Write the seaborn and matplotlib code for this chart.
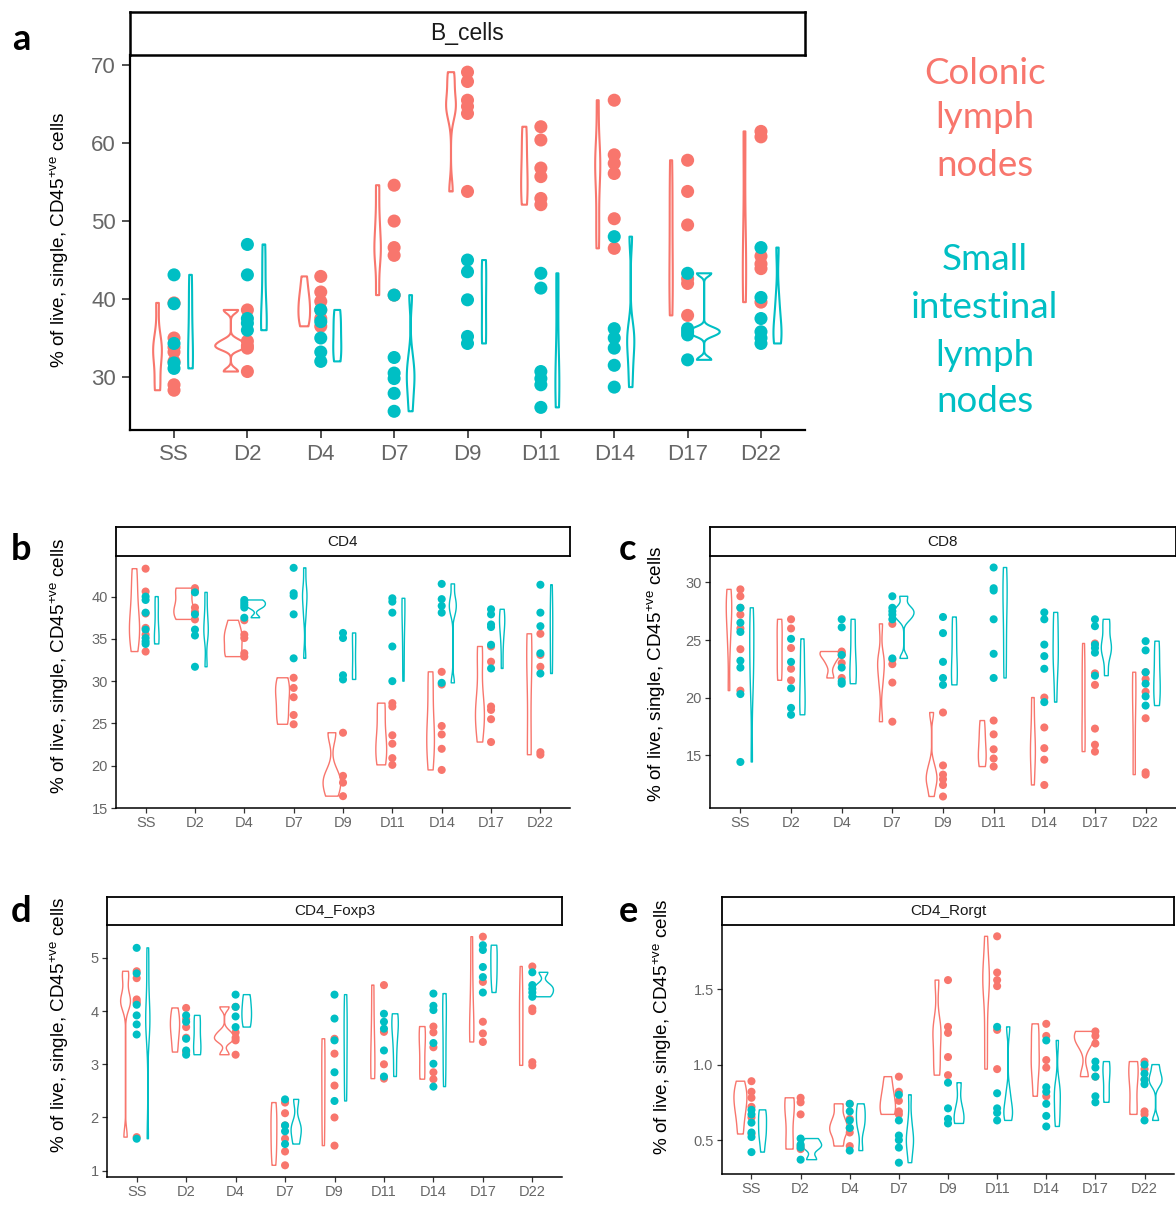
import numpy as np
import pandas as pd
import matplotlib
matplotlib.use("Agg")
import matplotlib.pyplot as plt
import seaborn as sns

# ---------------- data ----------------
DAYS = ["SS", "D2", "D4", "D7", "D9", "D11", "D14", "D17", "D22"]
SITES = ["Colonic", "SI"]
RED = "#F8766D"
CYAN = "#00BFC4"

BCELLS_COLONIC = [
    [39.5, 35.0, 33.8, 33.2, 32.0, 29.0, 28.3],
    [38.6, 34.6, 34.0, 33.7, 30.7],
    [42.9, 40.9, 39.7, 38.6, 37.5, 36.5],
    [54.6, 50.0, 46.6, 45.6, 40.5],
    [69.1, 67.9, 65.5, 64.7, 63.8, 53.8],
    [62.1, 60.4, 56.8, 55.7, 52.9, 52.1],
    [65.5, 58.5, 57.4, 56.1, 50.3, 46.5],
    [57.8, 53.8, 49.5, 42.6, 42.0, 37.9],
    [61.5, 60.8, 45.5, 44.5, 43.9, 39.6],
]
BCELLS_SI = [
    [43.1, 39.4, 34.3, 31.8, 31.1],
    [47.0, 43.1, 37.5, 36.9, 36.0],
    [38.6, 37.1, 35.0, 33.2, 32.0],
    [40.5, 32.5, 30.5, 29.8, 27.9, 25.6],
    [45.0, 43.5, 39.9, 35.2, 34.3],
    [43.3, 41.4, 30.7, 29.8, 29.0, 26.1],
    [48.0, 36.2, 35.0, 33.7, 31.5, 28.7],
    [43.3, 36.2, 35.8, 35.4, 32.2],
    [46.6, 40.2, 37.5, 35.8, 35.0, 34.3],
]
CD4_COLONIC = [
    [43.3, 40.6, 38.0, 36.3, 35.5, 33.5],
    [41.0, 40.7, 38.7, 38.2, 37.3],
    [37.2, 35.5, 35.1, 33.3, 32.9],
    [30.4, 29.2, 28.1, 26.0, 24.9],
    [23.9, 18.8, 18.0, 16.4],
    [27.4, 27.0, 23.6, 22.6, 20.9, 20.1],
    [31.1, 29.6, 24.7, 23.7, 22.0, 19.5],
    [34.1, 32.3, 27.0, 26.6, 25.5, 22.8],
    [35.6, 33.1, 31.7, 21.6, 21.3],
]
CD4_SI = [
    [40.0, 39.6, 38.1, 36.1, 35.1, 34.7, 34.4],
    [40.5, 37.9, 36.1, 35.4, 31.7],
    [39.6, 39.3, 39.0, 38.7, 37.5],
    [43.4, 40.4, 40.1, 37.9, 32.7],
    [35.7, 35.1, 30.7, 30.2],
    [39.8, 39.4, 38.1, 34.1, 30.0],
    [41.5, 39.7, 38.9, 38.1, 29.8],
    [38.5, 37.9, 36.7, 36.4, 34.3, 31.5],
    [41.4, 38.1, 36.5, 33.3, 30.9],
]
CD8_COLONIC = [
    [29.4, 28.8, 27.8, 27.2, 26.0, 24.2, 20.6],
    [26.8, 26.0, 24.3, 22.5, 21.5],
    [24.0, 23.9, 23.7, 23.0, 21.7],
    [26.4, 23.3, 22.9, 21.3, 17.9],
    [18.7, 14.1, 13.3, 12.9, 12.4, 11.4],
    [18.0, 16.8, 15.5, 14.7, 14.0],
    [20.0, 17.4, 15.6, 14.6, 12.4],
    [24.7, 22.1, 21.1, 17.3, 15.9, 15.3],
    [22.2, 21.6, 20.5, 18.2, 13.5, 13.3],
]
CD8_SI = [
    [27.8, 26.5, 25.7, 23.2, 22.6, 20.3, 14.4],
    [25.1, 23.1, 20.8, 19.1, 18.5],
    [26.8, 26.1, 23.7, 22.6, 21.4, 21.2],
    [28.8, 27.8, 27.5, 27.2, 26.8, 23.4],
    [27.0, 25.6, 23.1, 21.7, 21.1],
    [31.3, 29.5, 29.3, 26.8, 23.8, 21.7],
    [27.4, 26.8, 24.6, 23.6, 22.5, 19.6],
    [26.8, 26.2, 24.6, 24.3, 23.9, 21.9],
    [24.9, 24.1, 22.2, 21.2, 20.1, 19.3],
]
FOXP3_COLONIC = [
    [4.75, 4.62, 4.22, 4.18, 4.15, 1.63],
    [4.06, 3.85, 3.70, 3.50, 3.23],
    [4.08, 3.60, 3.50, 3.45, 3.18],
    [2.28, 2.08, 1.85, 1.60, 1.36, 1.10],
    [3.48, 3.20, 2.60, 2.00, 1.47],
    [4.49, 3.61, 3.00, 2.73],
    [3.71, 3.60, 3.32, 2.85, 2.72],
    [5.40, 4.55, 3.80, 3.58, 3.42],
    [4.84, 4.05, 4.00, 3.04, 2.98],
]
FOXP3_SI = [
    [5.19, 4.71, 4.12, 3.92, 3.75, 3.56, 1.60],
    [3.92, 3.80, 3.48, 3.26, 3.18],
    [4.31, 4.08, 3.90, 3.70],
    [2.34, 1.85, 1.74, 1.50],
    [4.31, 3.86, 3.45, 2.85, 2.31],
    [3.95, 3.80, 3.67, 3.26, 2.77],
    [4.33, 4.10, 4.02, 3.40, 3.01, 2.58],
    [5.24, 5.15, 4.83, 4.64, 4.35],
    [4.73, 4.49, 4.42, 4.35, 4.27],
]
RORGT_COLONIC = [
    [0.89, 0.82, 0.78, 0.72, 0.65, 0.54],
    [0.78, 0.75, 0.67, 0.46, 0.44],
    [0.74, 0.64, 0.58, 0.55, 0.46],
    [0.92, 0.82, 0.76, 0.69, 0.67],
    [1.56, 1.25, 1.21, 1.05, 0.93],
    [1.85, 1.61, 1.56, 1.52, 1.23, 0.97],
    [1.27, 1.19, 1.03, 0.98, 0.79],
    [1.22, 1.19, 1.14, 0.92],
    [1.02, 0.97, 0.90, 0.69, 0.67],
]
RORGT_SI = [
    [0.70, 0.67, 0.615, 0.55, 0.52, 0.42],
    [0.51, 0.47, 0.45, 0.37],
    [0.74, 0.69, 0.63, 0.58, 0.43],
    [0.80, 0.63, 0.53, 0.50, 0.45, 0.35],
    [0.88, 0.71, 0.64, 0.61],
    [1.25, 0.81, 0.71, 0.68, 0.63],
    [1.16, 0.85, 0.82, 0.74, 0.66, 0.59],
    [1.02, 0.98, 0.92, 0.79, 0.75],
    [1.00, 0.94, 0.90, 0.87, 0.63],
]

YLABEL = "% of live, single, CD45$^{+ve}$ cells"

# ---------------- style ----------------
sns.set_theme(style="ticks")
plt.rcParams["font.family"] = ["Liberation Sans", "DejaVu Sans"]
plt.rcParams["mathtext.default"] = "regular"

W, H = 1176, 1215
fig = plt.figure(figsize=(W / 100, H / 100), dpi=100)


def box(l, t, r, b):
    return [l / W, 1 - b / H, (r - l) / W, (b - t) / H]


def nrd0(kde):
    x = np.asarray(kde.dataset[0])
    sd = np.std(x, ddof=1)
    q75, q25 = np.percentile(x, [75, 25])
    lo = min(sd, (q75 - q25) / 1.34)
    if lo <= 0:
        lo = sd
    return 0.9 * lo * len(x) ** -0.2 / sd


def make_df(colonic, si):
    rows = []
    for site, series in zip(SITES, [colonic, si]):
        for day, vals in zip(DAYS, series):
            for v in vals:
                rows.append((day, site, v))
    return pd.DataFrame(rows, columns=["day", "site", "value"])


def panel(l, t, r, b, strip_top, title, colonic, si, ylim, yticks, yticklabels,
          big=False, gap=0.1):
    df = make_df(colonic, si)
    ax = fig.add_axes(box(l, t, r, b))
    pal = {"Colonic": RED, "SI": CYAN}
    lw = 1.5 if big else 1.0
    sns.violinplot(data=df, x="day", y="value", hue="site", order=DAYS,
                   hue_order=SITES, palette=pal, fill=False, inner=None, cut=0,
                   density_norm="area", width=0.9, gap=gap, dodge=True,
                   linewidth=lw, bw_method=nrd0, legend=False, ax=ax)
    sns.stripplot(data=df, x="day", y="value", hue="site", order=DAYS,
                  hue_order=SITES, palette=pal, dodge=False, jitter=False,
                  size=9.4 if big else 5.8, linewidth=0, legend=False, ax=ax)
    ax.set_xlim(-0.6, 8.6)
    ax.set_ylim(*ylim)
    ax.set_yticks(yticks)
    ax.set_yticklabels(yticklabels)
    ax.set_xlabel("")
    ax.set_ylabel("")
    for s in ["top", "right"]:
        ax.spines[s].set_visible(False)
    for s in ["left", "bottom"]:
        ax.spines[s].set_color("black")
        ax.spines[s].set_linewidth(1.6 if big else 1.1)
    ax.tick_params(axis="both", length=6 if big else 3.5, width=1.2 if big else 0.9,
                   color="#333333", labelcolor="#666666",
                   labelsize=16 if big else 10.5, pad=4 if big else 2.5)
    # strip
    sax = fig.add_axes(box(l, strip_top, r, t))
    sax.set_xticks([])
    sax.set_yticks([])
    for s in sax.spines.values():
        s.set_color("black")
        s.set_linewidth(1.8 if big else 1.3)
    sax.set_facecolor("white")
    sax.text(0.5, 0.5, title, ha="center", va="center",
             fontsize=16.5 if big else 11, color="#1a1a1a", transform=sax.transAxes)
    return ax


panel(130, 55, 805, 430, 12, "B_cells", BCELLS_COLONIC, BCELLS_SI,
      (23.2, 71.3), [30, 40, 50, 60, 70], ["30", "40", "50", "60", "70"],
      big=True, gap=0.05)
panel(116, 556, 570, 808, 527, "CD4", CD4_COLONIC, CD4_SI,
      (15.0, 44.8), [15, 20, 25, 30, 35, 40], ["15", "20", "25", "30", "35", "40"],
      gap=0.1)
panel(710, 556, 1176, 808, 527, "CD8", CD8_COLONIC, CD8_SI,
      (10.4, 32.3), [15, 20, 25, 30], ["15", "20", "25", "30"], gap=0.1)
panel(107, 925, 562, 1177, 897, "CD4_Foxp3", FOXP3_COLONIC, FOXP3_SI,
      (0.88, 5.62), [1, 2, 3, 4, 5], ["1", "2", "3", "4", "5"], gap=0.1)
panel(722, 925, 1174, 1174, 897, "CD4_Rorgt", RORGT_COLONIC, RORGT_SI,
      (0.275, 1.925), [0.5, 1.0, 1.5], ["0.5", "1.0", "1.5"], gap=0.1)

# y labels
for (x, y) in [(60, 240), (60, 666), (657, 674), (60, 1025), (663, 1027)]:
    fig.text(x / W, 1 - y / H, YLABEL, rotation=90, ha="center", va="center",
             fontsize=13.6, color="black")

# panel letters
for (x, y, s) in [(21, 40, "a"), (21, 549, "b"), (627, 549, "c"),
                  (21, 911, "d"), (628, 912, "e")]:
    fig.text(x / W, 1 - y / H, s, ha="center", va="center", fontsize=26,
             fontweight="bold", family=["Lato", "DejaVu Sans"], color="black")

# side annotation
for (y, s) in [(73, "Colonic"), (118, "lymph"), (165, "nodes")]:
    fig.text(985 / W, 1 - y / H, s, ha="center", va="center", fontsize=26.5,
             family=["Lato", "DejaVu Sans"], color=RED)
for (y, s) in [(260, "Small"), (307, "intestinal"), (355, "lymph"), (402, "nodes")]:
    fig.text(985 / W, 1 - y / H, s, ha="center", va="center", fontsize=26.5,
             family=["Lato", "DejaVu Sans"], color=CYAN)

fig.savefig("out.png", dpi=100, facecolor="white")
